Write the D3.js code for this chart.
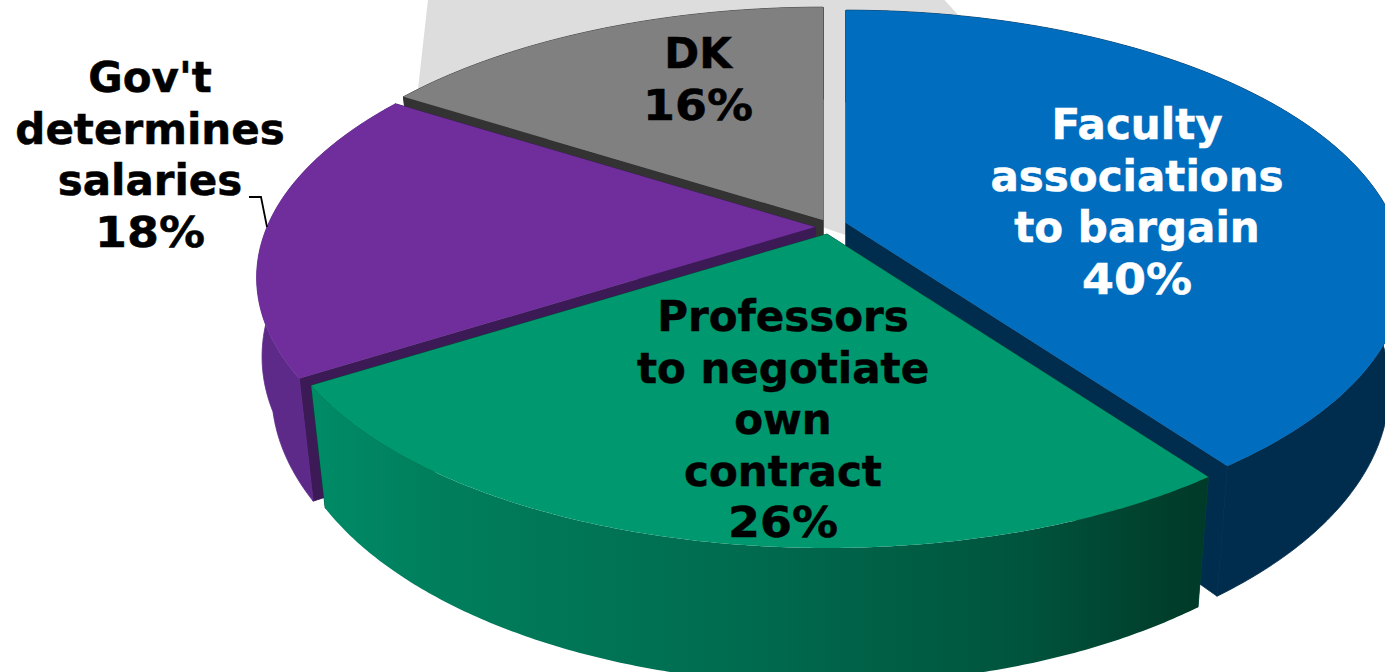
<!DOCTYPE html>
<html><head><meta charset="utf-8">
<style>html,body{margin:0;padding:0;background:#fff;overflow:hidden}svg{display:block}
text{font-family:"DejaVu Sans",Verdana,sans-serif;font-weight:700;text-anchor:middle}</style>
<script src="https://cdn.jsdelivr.net/npm/d3@7/dist/d3.min.js"></script>
</head><body><svg id="c" width="1385" height="672"></svg>
<script>
const categories=["Faculty associations to bargain","Professors to negotiate own contract","Gov't determines salaries","DK"];
const values=[40,26,18,16];
const labelLines=[["Faculty","associations","to bargain","40%"],["Professors","to negotiate","own","contract","26%"],["Gov't","determines","salaries","18%"],["DK","16%"]];
const labelColors=["#ffffff","#000000","#000000","#000000"];
const labelCenters=[[1137,139],[783,331],[150,92],[698,68]];
const topColors=["#016dbf","#00986f","#6f2e9b","#808080"];
const cutColors=["#002d4e","#004a35","#3b1a55","#333333"];
const apexes=[[846,223],[827,234],[815,227],[823,220]];
const backdropPts=[[306.6,1.035,0],[306.6,1.035,-1],[14.4,1.053,-0.147],[16,1.053,0],[120,0.06,0]];
const backdropApex=[825,230];
const leaderAngle=270;
const wallFlare=[0,0,0.0023,0];

const R=548,Ry=253.7,K=0.192,D=110,SHRINK=0.027,LINE=51.5,FS=42,PCT_W=110;
const svg=d3.select("#c");
const defs=svg.append("defs");
const gg=defs.append("linearGradient").attr("id","gw").attr("gradientUnits","userSpaceOnUse").attr("x1",322).attr("x2",1197).attr("y1",0).attr("y2",0);
[[0,"#008a66"],[.12,"#007f5d"],[.5,"#006a4e"],[.8,"#00543d"],[1,"#003a28"]].forEach(d=>gg.append("stop").attr("offset",d[0]).attr("stop-color",d[1]));
const wallFill=["#002d4e","url(#gw)","#5e2a8a","#333333"];

function proj(deg,r,t,ap){
  const a=deg*Math.PI/180,u=r*Math.sin(a),v=-r*Math.cos(a),s=1/(1-K*v),f=1-SHRINK*Math.abs(t);
  return [ap[0]+R*u*s*f, ap[1]+Ry*v*s+D*s*t];
}
const line=d3.line();
const deg=d3.scaleLinear().domain([0,2*Math.PI]).range([0,360]);
const arcs=d3.pie().sort(null).value(d=>d)(values);

svg.append("path").attr("fill","#dddddd")
  .attr("d",line(backdropPts.map(p=>proj(p[0],p[1],p[2],backdropApex)))+"Z");

// back-to-front order: DK, Gov't, Faculty, Professors
[3,2,0,1].forEach(i=>{
  const a0=deg(arcs[i].startAngle),a1=deg(arcs[i].endAngle),ap=apexes[i];
  const g=svg.append("g");
  const bot=[ap[0],ap[1]+D];
  const steps=d3.range(a0,a1,0.5).concat([a1]);
  const top=steps.map(d=>proj(d,1,0,ap));
  const under=steps.map(d=>proj(d,1+wallFlare[i]*Math.max(0,Math.min(d,285)-255),1,ap));
  [a0,a1].forEach(d=>{
    g.append("path").attr("fill",cutColors[i]).attr("stroke",cutColors[i]).attr("stroke-width",0.8)
     .attr("d",line([ap,proj(d,1,0,ap),proj(d,1,1,ap),bot])+"Z");
  });
  const w=g.append("path").attr("fill",wallFill[i]).attr("d",line(top.concat(under.slice().reverse()))+"Z");
  if(i!==1) w.attr("stroke",wallFill[i]).attr("stroke-width",0.8);
  g.append("path").attr("fill",topColors[i]).attr("d",line([ap].concat(top))+"Z");
});

// leader line
const lp=proj(leaderAngle,1,0,apexes[2]);
svg.append("path").attr("fill","none").attr("stroke","#000").attr("stroke-width",1.8)
  .attr("d",line([[lp[0]-18,lp[1]-30],[lp[0]-6,lp[1]-30],lp]));

labelLines.forEach((ls,i)=>{
  const t=svg.append("text").attr("font-size",FS).attr("fill",labelColors[i])
    .attr("stroke",labelColors[i]).attr("stroke-width",0.5);
  ls.forEach((s,j)=>{
    const el=t.append("tspan").attr("x",labelCenters[i][0]).attr("y",labelCenters[i][1]+j*LINE).text(s);
    if(s.endsWith("%")) el.attr("textLength",PCT_W).attr("lengthAdjust","spacingAndGlyphs");
  });
});
</script></body></html>
